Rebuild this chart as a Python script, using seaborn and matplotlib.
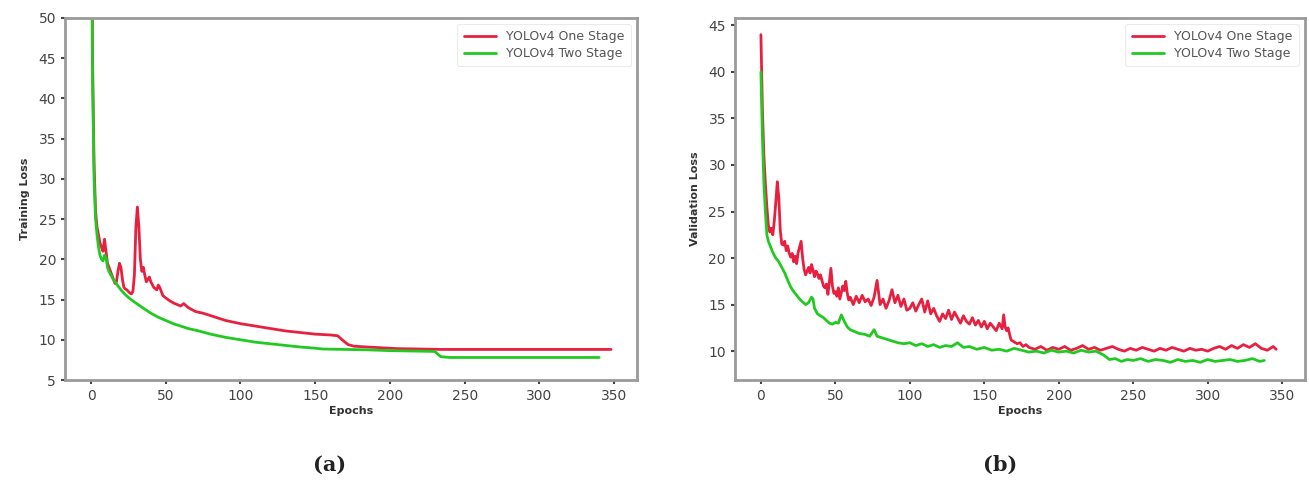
import matplotlib
matplotlib.use("Agg")
import matplotlib.pyplot as plt
import seaborn as sns
import pandas as pd

# ---------------- data ----------------
labels = ["YOLOv4 One Stage", "YOLOv4 Two Stage"]
colors = ["#e8203f", "#22c922"]

# (a) training loss
train_one_epochs = [0, 1, 2, 3, 4, 5, 6, 7, 8, 9, 10, 11, 12, 13, 14, 15, 16, 17, 18, 19, 20,
                    21, 22, 23, 24, 25, 26, 27, 28, 29, 30, 31, 32, 33, 34, 35, 36, 37, 38, 39,
                    40, 42, 44, 45, 46, 48, 50, 53, 56, 60, 62, 65, 70, 75, 80, 85, 90, 95, 100,
                    110, 120, 130, 140, 150, 160, 165, 168, 172, 176, 185, 195, 205, 220, 235,
                    260, 300, 348]
train_one_loss = [75, 45, 32, 26, 24, 23, 22, 21.5, 21, 22.5, 21, 19.5, 19, 18.5, 18, 17.5, 17,
                  17.2, 18.5, 19.5, 19, 17.5, 16.5, 16.3, 16.2, 16, 15.8, 15.7, 16, 18, 24, 26.5,
                  24, 20, 18.5, 19, 18, 17.2, 17.5, 17.8, 17.2, 16.5, 16.2, 16.8, 16.5, 15.5,
                  15.2, 14.8, 14.5, 14.2, 14.5, 14, 13.5, 13.3, 13.0, 12.7, 12.4, 12.2, 12.0,
                  11.7, 11.4, 11.1, 10.9, 10.7, 10.6, 10.5, 10.0, 9.4, 9.2, 9.1, 9.0, 8.9,
                  8.85, 8.8, 8.8, 8.8, 8.8]

train_two_epochs = [0, 1, 2, 3, 4, 5, 6, 7, 8, 9, 10, 11, 12, 14, 16, 18, 20, 23, 26, 29, 32,
                    36, 40, 45, 50, 55, 60, 65, 72, 80, 90, 100, 110, 120, 130, 140, 150, 155,
                    170, 185, 200, 215, 230, 234, 240, 280, 340]
train_two_loss = [75, 42, 30, 25, 23, 21.5, 20.5, 20, 19.8, 20.5, 20.2, 19, 18.5, 17.8, 17.2,
                  16.7, 16.2, 15.6, 15.1, 14.7, 14.3, 13.8, 13.3, 12.8, 12.4, 12.0, 11.7, 11.4,
                  11.1, 10.7, 10.3, 10.0, 9.7, 9.5, 9.3, 9.1, 8.95, 8.85, 8.8, 8.75, 8.65, 8.6,
                  8.55, 7.9, 7.8, 7.8, 7.8]

# (b) validation loss
val_one_epochs = [0, 1, 2, 3, 4, 5, 6, 7, 8, 9, 10, 11, 12, 13, 14, 15, 16, 17, 18, 19, 20,
                  21, 22, 23, 24, 25, 26, 27, 28, 29, 30, 31, 32, 33, 34, 35, 36, 37, 38, 39,
                  40, 41, 42, 43, 44, 45, 46, 47, 48, 49, 50, 51, 52, 53, 54, 55, 56, 57, 58,
                  59, 60, 62, 64, 66, 68, 70, 72, 74, 76, 78, 80, 82, 84, 86, 88, 90, 92, 94,
                  96, 98, 100, 102, 104, 106, 108, 110, 112, 114, 116, 118, 120, 122, 124, 126,
                  128, 130, 132, 134, 136, 138, 140, 142, 144, 146, 148, 150, 152, 154, 156,
                  158, 160, 162, 163, 164, 165, 166, 167, 168, 170, 172, 174, 176, 178, 180,
                  184, 188, 192, 196, 200, 204, 208, 212, 216, 220, 224, 228, 232, 236, 240,
                  244, 248, 252, 256, 260, 264, 268, 272, 276, 280, 284, 288, 292, 296, 300,
                  304, 308, 312, 316, 320, 324, 328, 332, 336, 340, 344, 346]
val_one_loss = [44, 36, 31, 28, 25.5, 23.5, 22.8, 23.2, 22.5, 24, 26, 28.2, 26.5, 23, 21.5,
                21.4, 21.8, 20.8, 21.3, 20.5, 20.1, 20.5, 19.6, 20.2, 19.4, 20.6, 21.2, 21.8,
                20, 18.8, 18.2, 18.6, 19.0, 18.4, 19.3, 18.7, 18.0, 18.6, 18.3, 17.8, 18.2,
                17.6, 17.0, 16.8, 17.2, 16.1, 17.5, 18.9, 17.0, 16.2, 16.4, 15.9, 16.8, 15.6,
                16.3, 17.0, 16.5, 17.5, 16.2, 15.5, 15.8, 15.0, 15.9, 15.2, 16.0, 15.3, 15.6,
                14.9, 15.8, 17.6, 15.0, 15.6, 14.6, 15.4, 16.6, 15.2, 16.0, 14.8, 15.6, 14.4,
                14.6, 15.2, 14.3, 15.0, 15.6, 14.2, 15.4, 14.0, 14.6, 13.8, 13.2, 14.0, 13.5,
                14.4, 13.4, 14.2, 13.6, 13.0, 13.8, 13.2, 12.9, 13.6, 12.8, 13.3, 12.6, 13.2,
                12.4, 13.0, 12.6, 12.2, 13.0, 12.4, 13.9, 12.6, 12.2, 12.5, 11.8, 11.2, 11.0,
                10.8, 10.9, 10.5, 10.7, 10.4, 10.2, 10.5, 10.1, 10.4, 10.2, 10.5, 10.1, 10.3,
                10.6, 10.2, 10.4, 10.1, 10.3, 10.5, 10.2, 10.0, 10.3, 10.1, 10.4, 10.2, 10.0,
                10.3, 10.1, 10.4, 10.2, 10.0, 10.3, 10.1, 10.2, 10.0, 10.3, 10.5, 10.2, 10.6,
                10.3, 10.7, 10.4, 10.8, 10.3, 10.1, 10.5, 10.2]

val_two_epochs = [0, 1, 2, 3, 4, 5, 6, 7, 8, 9, 10, 12, 14, 16, 18, 20, 22, 24, 26, 28, 30,
                  32, 34, 35, 36, 38, 40, 42, 44, 46, 48, 50, 52, 54, 56, 58, 60, 63, 66, 70,
                  73, 76, 78, 80, 84, 88, 92, 96, 100, 104, 108, 112, 116, 120, 124, 128, 132,
                  136, 140, 145, 150, 155, 160, 165, 170, 175, 180, 185, 190, 195, 200, 205,
                  210, 215, 220, 225, 230, 234, 238, 242, 246, 250, 255, 260, 265, 270, 275,
                  280, 285, 290, 295, 300, 305, 310, 315, 320, 325, 330, 335, 338]
val_two_loss = [40, 33, 28, 25, 22.5, 21.8, 21.4, 21.0, 20.6, 20.3, 20.0, 19.6, 19.0, 18.4,
                17.6, 16.9, 16.4, 16.0, 15.6, 15.3, 15.0, 15.2, 15.8, 15.6, 14.6, 14.0, 13.8,
                13.6, 13.3, 13.0, 12.9, 13.1, 13.0, 13.9, 13.2, 12.6, 12.3, 12.1, 11.9, 11.8,
                11.6, 12.3, 11.6, 11.5, 11.3, 11.1, 10.9, 10.8, 10.9, 10.6, 10.8, 10.5, 10.7,
                10.4, 10.6, 10.5, 10.9, 10.4, 10.5, 10.2, 10.4, 10.1, 10.2, 10.0, 10.3, 10.1,
                9.9, 10.0, 9.8, 10.1, 9.9, 10.0, 9.8, 10.1, 9.9, 10.0, 9.6, 9.1, 9.2, 8.9,
                9.1, 9.0, 9.2, 8.9, 9.1, 9.0, 8.8, 9.1, 8.9, 9.0, 8.8, 9.1, 8.9, 9.0, 9.1,
                8.9, 9.0, 9.2, 8.9, 9.0]

train_yticks = [5, 10, 15, 20, 25, 30, 35, 40, 45, 50]
val_yticks = [10, 15, 20, 25, 30, 35, 40, 45]
xticks = [0, 50, 100, 150, 200, 250, 300, 350]


def long_frame(e1, v1, e2, v2):
    return pd.concat([
        pd.DataFrame({"Epochs": e1, "Loss": v1, "Model": labels[0]}),
        pd.DataFrame({"Epochs": e2, "Loss": v2, "Model": labels[1]}),
    ], ignore_index=True)


df_train = long_frame(train_one_epochs, train_one_loss, train_two_epochs, train_two_loss)
df_val = long_frame(val_one_epochs, val_one_loss, val_two_epochs, val_two_loss)

sns.set_style("white")
plt.rcParams["font.family"] = ["DejaVu Sans"]

fig = plt.figure(figsize=(13.09, 4.88), dpi=100)
ax1 = fig.add_axes([0.0497, 0.2213, 0.437, 0.742])
ax2 = fig.add_axes([0.5615, 0.2213, 0.4355, 0.742])

palette = dict(zip(labels, colors))

for ax, df, ylab, yt, ylim in [
    (ax1, df_train, "Training Loss", train_yticks, (5, 50)),
    (ax2, df_val, "Validation Loss", val_yticks, (6.9, 45.8)),
]:
    sns.lineplot(data=df, x="Epochs", y="Loss", hue="Model", palette=palette,
                 linewidth=2.0, ax=ax, sort=True, estimator=None)
    ax.set_ylim(*ylim)
    ax.set_xlim(-17.4, 365.4)
    ax.set_yticks(yt)
    ax.set_xticks(xticks)
    ax.set_ylabel(ylab, fontsize=8, fontweight="bold", color="#333333", labelpad=6)
    ax.set_xlabel("Epochs", fontsize=8, fontweight="bold", color="#333333", labelpad=2)
    ax.tick_params(axis="both", labelsize=10, colors="#444444", length=3, width=1.5,
                   direction="out", bottom=True, left=True)
    for s in ax.spines.values():
        s.set_color("#9a9a9a")
        s.set_linewidth(2)
    h, l = ax.get_legend_handles_labels()
    leg = ax.legend(h, l, loc="upper right", fontsize=9, frameon=True,
                    handlelength=2.6, borderpad=0.5, labelspacing=0.3)
    leg.get_frame().set_edgecolor("#e6e6e6")
    leg.get_frame().set_linewidth(0.8)
    for t in leg.get_texts():
        t.set_color("#555555")

fig.text(0.252, 0.047, "(a)", fontsize=15, fontweight="bold", ha="center", va="center",
         family=["DejaVu Serif"], color="#222222")
fig.text(0.764, 0.047, "(b)", fontsize=15, fontweight="bold", ha="center", va="center",
         family=["DejaVu Serif"], color="#222222")

fig.savefig("out.png", dpi=100)
